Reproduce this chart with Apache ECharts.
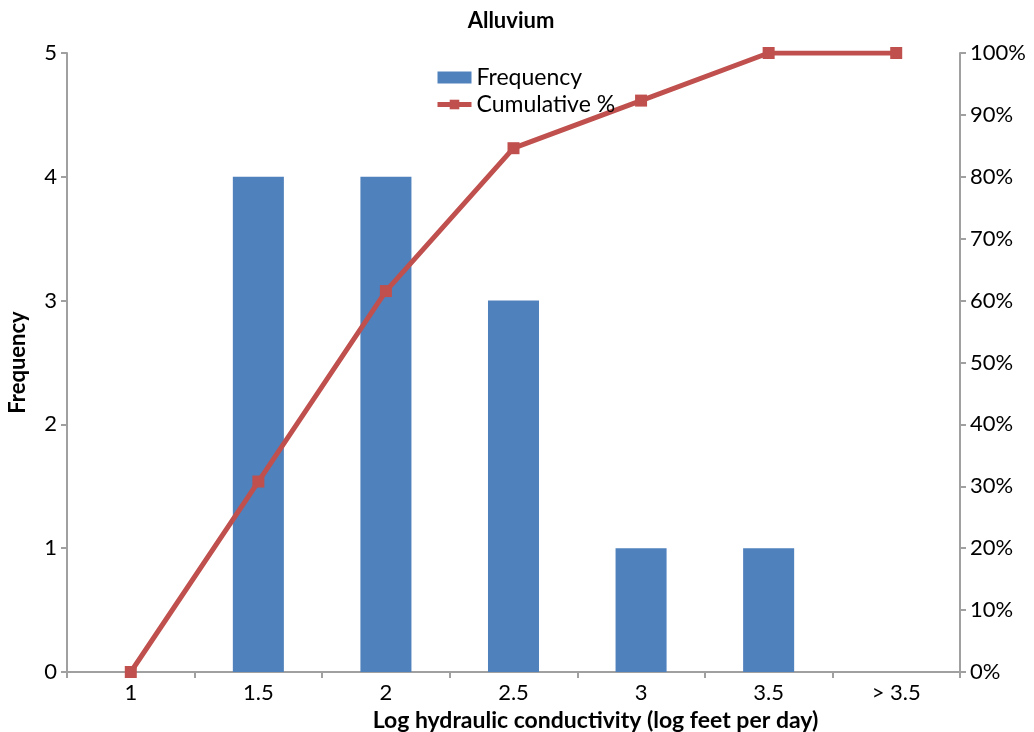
<!DOCTYPE html>
<html>
<head>
<meta charset="utf-8">
<script src="https://cdn.jsdelivr.net/npm/echarts@6/dist/echarts.min.js"></script>
<style>
  html, body { margin: 0; padding: 0; background: #fff; }
  #chart { width: 1034px; height: 732px; }
</style>
</head>
<body>
<div id="chart"></div>
<script>
const categories = ['1', '1.5', '2', '2.5', '3', '3.5', '> 3.5']
const frequency = [0, 4, 4, 3, 1, 1, 0]
const cumulative = [0, 30.77, 61.54, 84.62, 92.31, 100, 100]
const freqTicks = [0, 1, 2, 3, 4, 5]

const FONT = 'Lato, "Open Sans", sans-serif'
const AXIS_GREY = '#a0a0a0'

const chart = echarts.init(document.getElementById('chart'))
chart.setOption({
  animation: false,
  textStyle: { fontFamily: FONT },
  title: {
    text: 'Alluvium',
    left: 506,
    top: 5,
    textAlign: 'center',
    textStyle: { fontSize: 22, fontWeight: 'bold', color: '#000', fontFamily: FONT }
  },
  legend: {
    left: 430,
    top: 61,
    orient: 'vertical',
    itemGap: 4,
    itemWidth: 34,
    itemHeight: 12,
    textStyle: { fontSize: 23, color: '#000', fontFamily: FONT },
    data: [
      { name: 'Frequency', icon: 'rect' },
      { name: 'Cumulative %', lineStyle: { width: 5 } }
    ]
  },
  grid: { left: 67, right: 74, top: 53, bottom: 60, containLabel: false, outerBoundsMode: 'none' },
  xAxis: {
    type: 'category',
    data: categories,
    name: 'Log hydraulic conductivity (log feet per day)',
    nameLocation: 'middle',
    nameGap: 34,
    nameTextStyle: { fontSize: 23, fontWeight: 'bold', color: '#000', fontFamily: FONT, padding: [0, 0, 0, 164] },
    axisLine: { lineStyle: { color: AXIS_GREY, width: 2 } },
    axisTick: { show: true, length: 6, lineStyle: { color: AXIS_GREY, width: 2 } },
    axisLabel: { fontSize: 22, color: '#000', margin: 10 }
  },
  yAxis: [
    {
      type: 'value',
      min: freqTicks[0],
      max: freqTicks[freqTicks.length - 1],
      interval: 1,
      name: 'Frequency',
      nameLocation: 'middle',
      nameGap: 38,
      nameTextStyle: { fontSize: 22, fontWeight: 'bold', color: '#000', fontFamily: FONT },
      axisLine: { show: true, lineStyle: { color: AXIS_GREY, width: 2 } },
      axisTick: { show: true, length: 6, lineStyle: { color: AXIS_GREY, width: 2 } },
      axisLabel: { fontSize: 22, color: '#000', margin: 10 },
      splitLine: { show: false }
    },
    {
      type: 'value',
      min: 0,
      max: 100,
      interval: 10,
      position: 'right',
      axisLine: { show: true, lineStyle: { color: AXIS_GREY, width: 2 } },
      axisTick: { show: true, length: 6, lineStyle: { color: AXIS_GREY, width: 2 } },
      axisLabel: { fontSize: 22, color: '#000', margin: 10, formatter: '{value}%' },
      splitLine: { show: false }
    }
  ],
  series: [
    {
      name: 'Frequency',
      type: 'bar',
      data: frequency,
      barWidth: '40%',
      itemStyle: { color: '#4f81bd' }
    },
    {
      name: 'Cumulative %',
      type: 'line',
      yAxisIndex: 1,
      data: cumulative,
      symbol: 'rect',
      symbolSize: 12,
      lineStyle: { color: '#c0504d', width: 5 },
      itemStyle: { color: '#c0504d' }
    }
  ]
})
</script>
</body>
</html>
